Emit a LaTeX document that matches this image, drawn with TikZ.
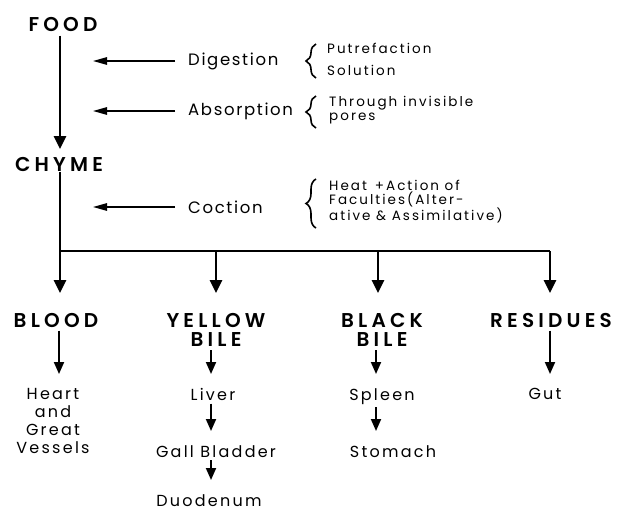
\documentclass[tikz,border=0pt]{standalone}
\usepackage{fontspec}
\setmainfont{Poppins}[BoldFont={Poppins SemiBold}]
\usetikzlibrary{arrows.meta,decorations.pathreplacing}

\tikzset{
  head/.style={font=\fontsize{20}{19.5}\selectfont\bfseries\addfontfeatures{LetterSpace=21}, align=center, inner sep=0pt, anchor=north},
  proc/.style={font=\fontsize{16.5}{19}\selectfont\addfontfeatures{LetterSpace=10}, inner sep=0pt, anchor=west},
  note/.style={font=\fontsize{13.5}{14}\selectfont\addfontfeatures{LetterSpace=15}, align=left, inner sep=0pt, anchor=west},
  organ/.style={font=\fontsize{16}{18}\selectfont\addfontfeatures{LetterSpace=14}, align=center, inner sep=0pt, anchor=north},
  flow/.style={line width=2.8pt, -{Triangle[length=13pt,width=12pt]}},
  down/.style={line width=1.9pt, -{Triangle[length=12pt,width=10pt]}, shorten <=3pt, shorten >=14pt},
  side/.style={line width=1.4pt, -{Triangle[length=14pt,width=7.5pt]}, shorten <=13pt},
  cbrace/.style={line width=1.6pt, decorate, decoration={brace, amplitude=10pt}},
}

\begin{document}
\begin{tikzpicture}[x=1pt,y=-1pt]
  \useasboundingbox (0,0) rectangle (617,512);

  % food to chyme
  \node[head] (food) at (63,17) {FOOD};
  \node[head] (chyme) at (59,157) {CHYME};
  \draw[flow, shorten <=4pt, shorten >=8pt] (food.south -| 60,0) -- (chyme.north -| 60,0);

  % what happens on the way
  \coordinate (dig-tip) at (93,61);
  \coordinate (abs-tip) at (93,111);
  \coordinate (coc-tip) at (93,207);
  \node[proc] (dig) at (188,61) {Digestion};
  \node[proc] (abs) at (188,111) {Absorption};
  \node[proc] (coc) at (188,207) {Coction};
  \draw[side] (dig.west) -- (dig-tip);
  \draw[side] (abs.west) -- (abs-tip);
  \draw[side] (coc.west) -- (coc-tip);

  \draw[cbrace] (316,78) -- (316,44);
  \node[note] (putr) at (327,48) {Putrefaction};
  \node[note] (solu) at (327,70) {Solution};
  \draw[cbrace] (316,128) -- (316,96);
  \node[note] (pores) at (329,110) {Through invisible\\pores};
  \draw[cbrace] (316,228) -- (316,179);
  \node[note] (heat) at (329,202) {Heat \,+Action of\\Faculties(Alter-\\ative \& Assimilative)};

  % splitting into four
  \node[head] (blood) at (56,313) {BLOOD};
  \node[head] (ybile) at (216,313) {YELLOW\\BILE};
  \node[head] (bbile) at (382,313) {BLACK\\BILE};
  \node[head] (resid) at (551,313) {RESIDUES};
  \coordinate (bar) at (60,251);
  \draw[line width=2.8pt] (chyme.south -| 60,0) -- (bar) -- (550,251);
  \foreach \x/\n in {60/blood,216/ybile,378/bbile,550/resid}
    \draw[flow, shorten >=20pt] (bar -| \x,0) -- (\n.north -| \x,0);

  % organs
  \node[organ] (heart) at (53,388) {Heart\\and\\Great\\Vessels};
  \node[organ] (liver) at (213,388) {Liver};
  \node[organ] (gall) at (216,445) {Gall Bladder};
  \node[organ] (duod) at (209,494) {Duodenum};
  \node[organ] (spleen) at (382,388) {Spleen};
  \node[organ] (stom) at (393,445) {Stomach};
  \node[organ] (gut) at (545,388) {Gut};

  \draw[down] (blood.south -| 59,0) -- (heart.north -| 59,0);
  \draw[down] (ybile.south -| 211,0) -- (liver.north -| 211,0);
  \draw[down] (liver.south -| 211,0) -- (gall.north -| 211,0);
  \draw[down] (gall.south -| 211,0) -- (duod.north -| 211,0);
  \draw[down] (bbile.south -| 376,0) -- (spleen.north -| 376,0);
  \draw[down] (spleen.south -| 376,0) -- (stom.north -| 376,0);
  \draw[down] (resid.south -| 550,0) -- (gut.north -| 550,0);
\end{tikzpicture}
\end{document}
